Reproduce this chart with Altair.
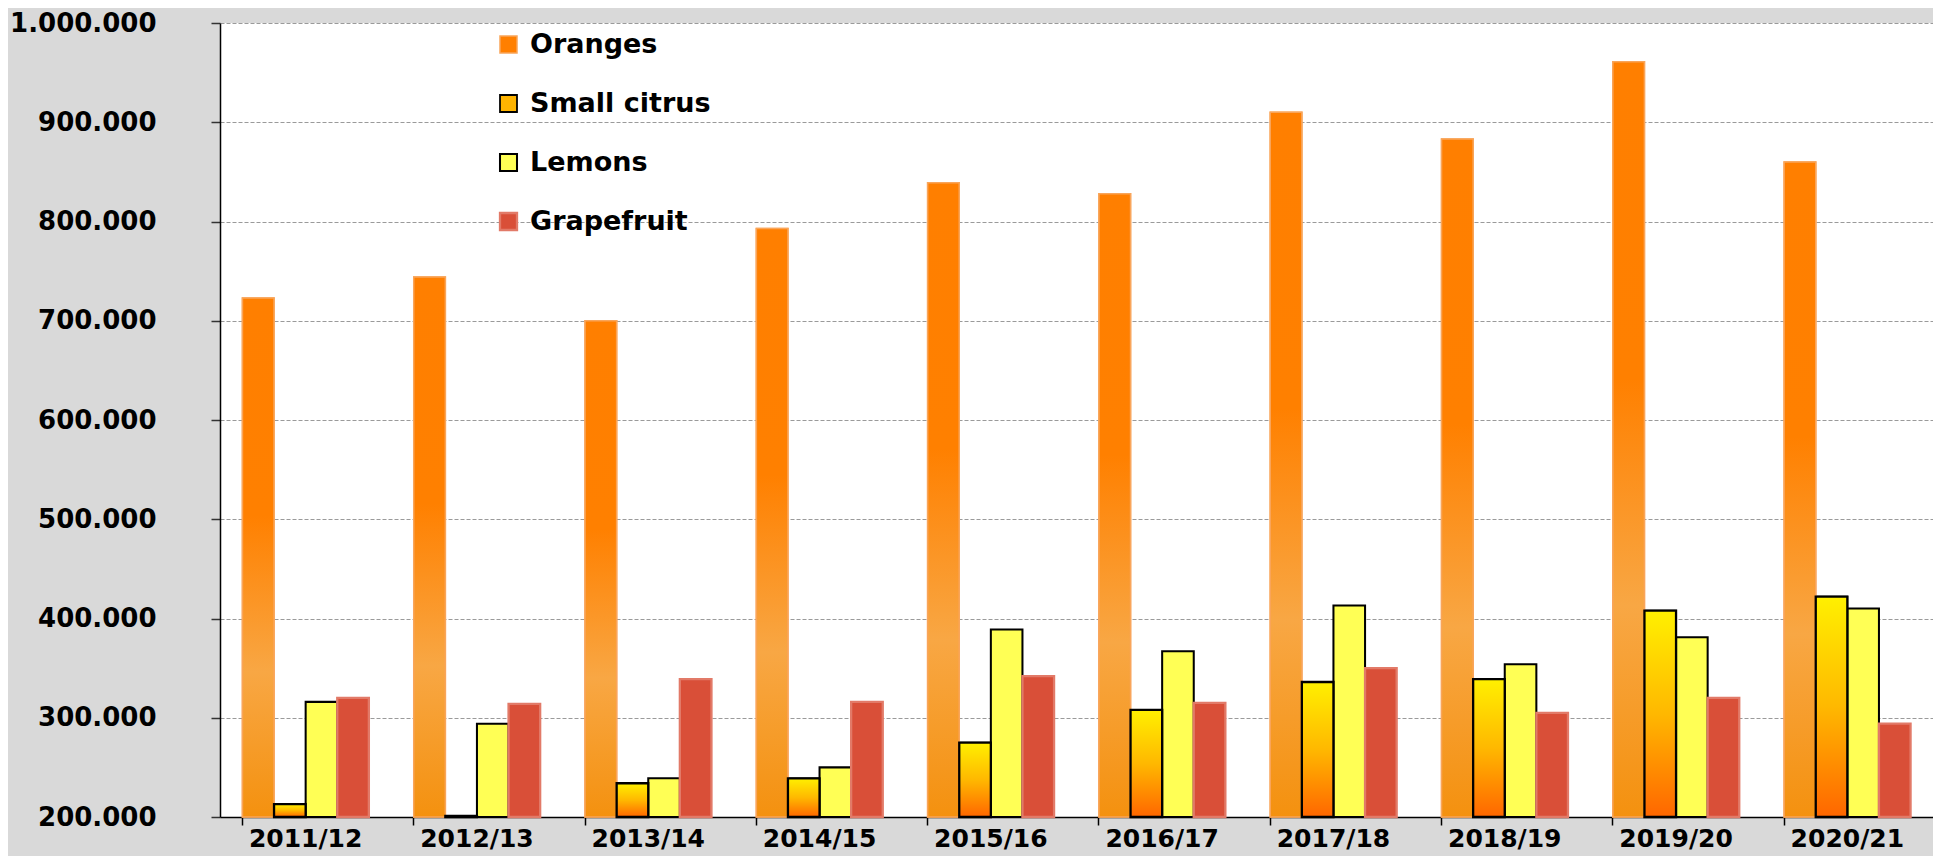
import altair as alt
import pandas as pd

seasons = ["2011/12", "2012/13", "2013/14", "2014/15", "2015/16",
           "2016/17", "2017/18", "2018/19", "2019/20", "2020/21"]
series_order = ["Oranges", "Small citrus", "Lemons", "Grapefruit"]

oranges = [723000, 744000, 700000, 793000, 839000, 828000, 910000, 883000, 961000, 860000]
small_citrus = [213000, 201000, 234000, 239000, 275000, 308000, 336000, 339000, 408000, 422000]
lemons = [316000, 294000, 239000, 250000, 389000, 367000, 413000, 354000, 381000, 410000]
grapefruit = [320000, 314000, 339000, 316000, 342000, 315000, 350000, 305000, 320000, 294000]

y_ticks = [200000, 300000, 400000, 500000, 600000, 700000, 800000, 900000, 1000000]

rows = []
for name, vals in zip(series_order, [oranges, small_citrus, lemons, grapefruit]):
    for s, v in zip(seasons, vals):
        rows.append({"season": s, "series": name, "value": v})
df = pd.DataFrame(rows)

FONT = "DejaVu Sans"
PAD_L, PAD_T, PAD_B = 212, 15, 39
W = 1925 - PAD_L
H = 794

x_enc = alt.X(
    "season:N", sort=seasons, title=None,
    scale=alt.Scale(domain=seasons, paddingInner=0.262, paddingOuter=0.131),
    axis=alt.Axis(
        bandPosition=0, labelAngle=0,
        labelFont=FONT, labelFontSize=25, labelFontWeight="bold", labelColor="black",
        labelPadding=13, labelBaseline="middle", labelOverlap=False, labelBound=False,
        labelFlush=False,
        tickSize=8, tickColor="black", tickWidth=1.5,
        domainColor="black", domainWidth=1.5, grid=False,
    ),
)
xo_enc = alt.XOffset(
    "series:N", sort=series_order,
    scale=alt.Scale(domain=series_order, paddingInner=0, paddingOuter=0),
)
y_enc = alt.Y(
    "value:Q", title=None,
    scale=alt.Scale(domain=[200000, 1000000], nice=False, zero=False),
    axis=alt.Axis(
        values=y_ticks,
        labelExpr="replace(replace(format(datum.value, ','), ',', '.'), ',', '.')",
        labelFont=FONT, labelFontSize=26, labelFontWeight="bold", labelColor="black",
        labelPadding=55, labelBaseline="middle",
        tickSize=9, tickColor="#333333", tickWidth=1.5,
        domainColor="black", domainWidth=1.5,
        grid=True, gridColor="#9a9a9a", gridDash=[4, 2], gridWidth=1.2,
    ),
)

legend = alt.Legend(
    title=None, orient="none", legendX=275, legendY=8, direction="vertical",
    symbolType="square", symbolSize=289, symbolStrokeWidth=2,
    labelFont=FONT, labelFontSize=27, labelFontWeight="bold", labelColor="black",
    labelLimit=0, labelOffset=8, rowPadding=31, padding=0,
)

flat_fill = ["#ff7f00", "#ffb400", "#ffff55", "#d94f38"]
stroke_cols = ["#f9a55a", "#000000", "#000000", "#e27a68"]

base = alt.Chart(df)

layer_all = base.mark_bar().encode(
    x=x_enc, xOffset=xo_enc, y=y_enc, y2=alt.datum(200000),
    fill=alt.Fill("series:N", sort=series_order,
                  scale=alt.Scale(domain=series_order, range=flat_fill), legend=legend),
    stroke=alt.Stroke("series:N", sort=series_order,
                      scale=alt.Scale(domain=series_order, range=stroke_cols), legend=legend),
    strokeWidth=alt.StrokeWidth("series:O", sort=series_order,
                                scale=alt.Scale(domain=series_order, range=[1.5, 2.3, 2.3, 1]),
                                legend=None),
)

orange_grad = alt.LinearGradient(
    gradient="linear", x1=0, y1=0, x2=0, y2=1,
    stops=[
        alt.GradientStop(color="#ff7f00", offset=0),
        alt.GradientStop(color="#ff8000", offset=0.42),
        alt.GradientStop(color="#f8a744", offset=0.72),
        alt.GradientStop(color="#f4910f", offset=1),
    ],
)
sc_grad = alt.LinearGradient(
    gradient="linear", x1=0, y1=0, x2=0, y2=1,
    stops=[
        alt.GradientStop(color="#fff000", offset=0),
        alt.GradientStop(color="#ffb800", offset=0.5),
        alt.GradientStop(color="#ff6600", offset=1),
    ],
)

layer_orange = base.transform_filter(alt.datum.series == "Oranges").mark_bar(
    fill=orange_grad, stroke="#f9a55a", strokeWidth=1.5
).encode(x=x_enc, xOffset=xo_enc, y=y_enc, y2=alt.datum(200000))

layer_sc = base.transform_filter(alt.datum.series == "Small citrus").mark_bar(
    fill=sc_grad, stroke="black", strokeWidth=2.3
).encode(x=x_enc, xOffset=xo_enc, y=y_enc, y2=alt.datum(200000))

chart = alt.layer(layer_all, layer_orange, layer_sc).properties(
    width=W, height=H,
    autosize=alt.AutoSizeParams(type="none"),
    padding={"left": PAD_L, "top": PAD_T, "right": 0, "bottom": PAD_B},
    background="#d9d9d9",
).configure_view(fill="white", stroke=None)

chart.save("out.html", embed_options={"renderer": "svg", "actions": False})
